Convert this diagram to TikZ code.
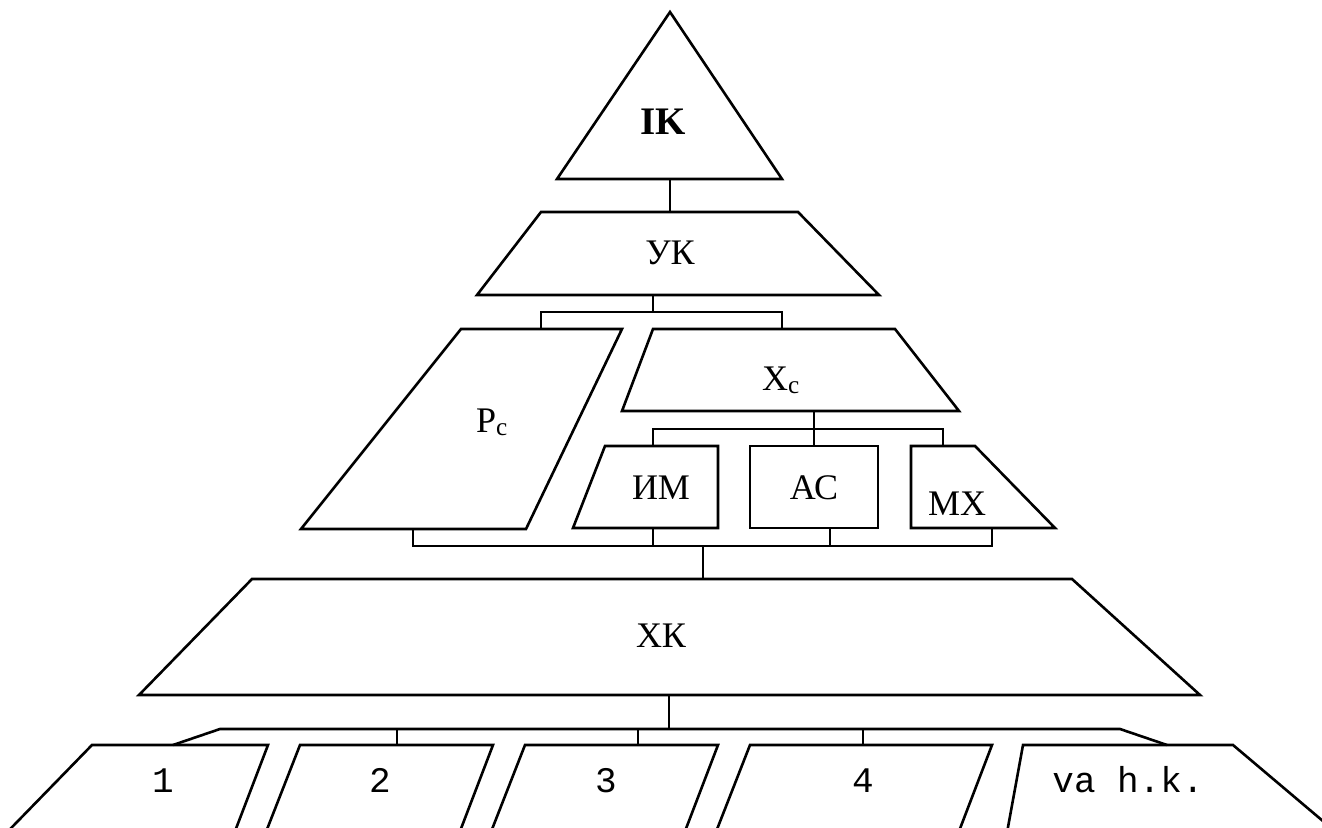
\documentclass[tikz,border=0pt]{standalone}
\usepackage{fontspec}
\setmainfont{Liberation Serif}
\setmonofont{Liberation Mono}
\usetikzlibrary{positioning}

\begin{document}
\begin{tikzpicture}
[
x=1pt, y=-1pt,
block/.style={draw, line width=2.6pt, line join=miter},
wire/.style={draw, line width=2.6pt},
lbl/.style={anchor=base, inner sep=0pt, font=\fontsize{36}{40}\selectfont},
lbl-tt/.style={lbl, font=\fontsize{36}{40}\selectfont\ttfamily}
]
\useasboundingbox (0,0) rectangle (1322,827);
\clip (0,0) rectangle (1322,827);

% blocks
\draw [block] (670,12) -- (782,179) -- (557,179) -- cycle;
\draw [block] (541,212) -- (798,212) -- (879,295) -- (477,295) -- cycle;
\draw [block] (461,329) -- (622,329) -- (526,529) -- (301,529) -- cycle;
\draw [block] (653,329) -- (895,329) -- (959,411) -- (622,411) -- cycle;
\draw [block] (605,446) -- (718,446) -- (718,528) -- (573,528) -- cycle;
\draw [block] (750,446) -- (878,446) -- (878,528) -- (750,528) -- cycle;
\draw [block] (911,446) -- (975,446) -- (1055,528) -- (911,528) -- cycle;
\draw [block] (252,579) -- (1072,579) -- (1200,695) -- (139,695) -- cycle;
\draw [block] (92,745)   -- (268,745) -- (224,860)  -- (-20,860) -- cycle;
\draw [block] (300,745)  -- (493,745) -- (449,860)  -- (255,860) -- cycle;
\draw [block] (525,745)  -- (718,745) -- (674,860)  -- (480,860) -- cycle;
\draw [block] (750,745)  -- (992,745) -- (948,860)  -- (705,860) -- cycle;
\draw [block] (1023,745) -- (1233,745) -- (1369,860) -- (1002,860) -- cycle;

% labels
\node (ik)   [lbl, font=\fontsize{39}{42}\selectfont\bfseries] at (663,134) {IK};
\node (uk)   [lbl] at (670,264) {УК};
\node (pc)   [lbl] at (492,432) {Р\textsubscript{с}};
\node (xc)   [lbl] at (781,390) {Х\textsubscript{с}};
\node (im)   [lbl] at (661,499) {ИМ};
\node (as)   [lbl] at (814,499) {АС};
\node (mx)   [lbl] at (957,515) {МХ};
\node (xk)   [lbl] at (661,647) {ХК};
\node (hk-1) [lbl-tt] at (163,792)  {1};
\node (hk-2) [lbl-tt] at (380,792)  {2};
\node (hk-3) [lbl-tt] at (606,792)  {3};
\node (hk-4) [lbl-tt] at (863,792)  {4};
\node (hk-5) [lbl-tt] at (1128,792) {va h.k.};

% connection points
\coordinate (ik-b) at (670,179);
\coordinate (uk-t) at (670,212);
\coordinate (uk-b) at (653,295);
\coordinate (pc-t) at (541,329);
\coordinate (pc-b) at (413,529);
\coordinate (xc-t) at (782,329);
\coordinate (xc-b) at (814,411);
\coordinate (im-t) at (653,446);
\coordinate (im-b) at (653,528);
\coordinate (as-t) at (814,446);
\coordinate (as-b) at (830,528);
\coordinate (mx-t) at (943,446);
\coordinate (mx-b) at (992,528);
\coordinate (xk-t) at (703,579);
\coordinate (xk-b) at (669,695);
\coordinate (hk-1-t) at (173,745);
\coordinate (hk-2-t) at (397,745);
\coordinate (hk-3-t) at (638,745);
\coordinate (hk-4-t) at (863,745);
\coordinate (hk-5-t) at (1167,745);
\coordinate (bus-a) at (653,312);
\coordinate (bus-b) at (814,429);
\coordinate (bus-c) at (703,546);
\coordinate (bus-l) at (220,729);
\coordinate (bus-r) at (1120,729);

% connectors
\draw [wire] (ik-b) -- (uk-t);
\draw [wire] (uk-b) -- (bus-a);
\draw [wire] (pc-t) |- (bus-a) -| (xc-t);
\draw [wire] (xc-b) -- (bus-b);
\draw [wire] (im-t) |- (bus-b) -| (mx-t);
\draw [wire] (as-t) -- (bus-b);
\draw [wire] (pc-b) |- (bus-c) -| (mx-b);
\draw [wire] (im-b) -- (im-b|-bus-c);
\draw [wire] (as-b) -- (as-b|-bus-c);
\draw [wire] (bus-c) -- (xk-t);
\draw [wire] (xk-b) -- (xk-b|-bus-l);
\draw [wire] (hk-1-t) -- (bus-l) -- (bus-r) -- (hk-5-t);
\draw [wire] (hk-2-t) -- (hk-2-t|-bus-l);
\draw [wire] (hk-3-t) -- (hk-3-t|-bus-l);
\draw [wire] (hk-4-t) -- (hk-4-t|-bus-l);
\end{tikzpicture}
\end{document}
